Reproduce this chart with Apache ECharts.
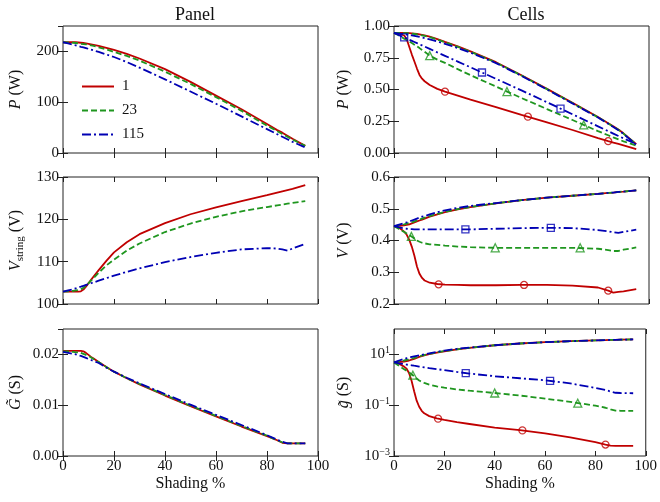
<!DOCTYPE html>
<html>
<head>
<meta charset="utf-8">
<script src="https://cdn.jsdelivr.net/npm/echarts@6/dist/echarts.min.js"></script>
<style>
  html, body { margin: 0; padding: 0; background: #fff; }
  #chart { width: 660px; height: 502px; }
</style>
</head>
<body>
<div id="chart"></div>
<script>
// shading % (x values shared by every curve)
const shading = [0, 2, 4, 5, 6, 7, 8, 9, 10, 11, 12, 14, 17, 20, 25, 30, 40, 50, 60, 70, 80, 84, 86, 88, 90, 95];
const legendNames = ['1', '23', '115'];

// Panel: power (W)
const panelPower1 = [218, 218, 218, 218, 217.5, 217, 216.5, 216, 215, 214, 213, 211, 207, 203, 195, 186, 165, 140, 113, 86, 57, 45, 40, 34, 28, 14];
const panelPower23 = [218, 217.5, 217, 216.5, 216, 215, 214.5, 214, 213, 212, 211, 208, 204, 199, 191, 182, 160, 136, 110, 83, 54, 43, 37.5, 32, 26.5, 14];
const panelPower115 = [218, 216, 213, 212, 210.5, 209, 208, 206.5, 205, 203.5, 202, 199, 194, 189, 179, 168, 145, 121, 97, 72, 47, 37, 32, 27, 22, 11];

// Panel: string voltage (V)
const panelVolt1 = [102.9, 102.9, 102.9, 102.9, 102.9, 103.0, 103.4, 104.1, 104.9, 105.7, 106.5, 108.0, 110.2, 112.2, 114.6, 116.5, 119.1, 121.2, 122.8, 124.3, 125.7, 126.3, 126.6, 126.9, 127.2, 128.1];
const panelVolt23 = [102.9, 103.0, 103.1, 103.2, 103.3, 103.5, 103.8, 104.3, 104.9, 105.5, 106.1, 107.4, 109.1, 110.5, 112.6, 114.3, 117.0, 119.0, 120.6, 121.9, 122.9, 123.3, 123.5, 123.7, 123.9, 124.3];
const panelVolt115 = [102.9, 103.2, 103.5, 103.7, 103.9, 104.1, 104.3, 104.5, 104.7, 104.9, 105.1, 105.5, 106.1, 106.7, 107.6, 108.4, 109.9, 111.1, 112.1, 112.9, 113.2, 113.1, 112.9, 112.6, 113.1, 114.2];

// Panel: conductance (S)
const panelCond1 = [0.0207, 0.0207, 0.0207, 0.0207, 0.0207, 0.0207, 0.0206, 0.0203, 0.0199, 0.0195, 0.0192, 0.0185, 0.0175, 0.0166, 0.0153, 0.0141, 0.0119, 0.0098, 0.0078, 0.0058, 0.0039, 0.0031, 0.0026, 0.0025, 0.0025, 0.0025];
const panelCond23 = [0.0206, 0.0206, 0.0205, 0.0204, 0.0204, 0.0203, 0.0201, 0.0199, 0.0197, 0.0194, 0.0191, 0.0185, 0.0175, 0.0166, 0.0153, 0.0142, 0.0120, 0.0099, 0.0079, 0.0059, 0.0040, 0.0031, 0.0027, 0.0025, 0.0025, 0.0025];
const panelCond115 = [0.0205, 0.0203, 0.0201, 0.0200, 0.0198, 0.0197, 0.0195, 0.0193, 0.0191, 0.0189, 0.0187, 0.0183, 0.0174, 0.0166, 0.0154, 0.0143, 0.0122, 0.0101, 0.0081, 0.0061, 0.0041, 0.0032, 0.0028, 0.0025, 0.0025, 0.0025];

// Cells: power (W), unshaded cell and shaded cell
const cellPowerFull1 = [0.945, 0.945, 0.945, 0.945, 0.944, 0.942, 0.94, 0.937, 0.934, 0.93, 0.926, 0.916, 0.897, 0.875, 0.84, 0.80, 0.715, 0.612, 0.505, 0.395, 0.283, 0.235, 0.21, 0.185, 0.155, 0.07];
const cellPowerFull23 = [0.945, 0.945, 0.944, 0.943, 0.942, 0.94, 0.937, 0.934, 0.93, 0.926, 0.922, 0.912, 0.893, 0.871, 0.836, 0.797, 0.712, 0.61, 0.503, 0.393, 0.281, 0.233, 0.208, 0.183, 0.153, 0.068];
const cellPowerFull115 = [0.945, 0.94, 0.935, 0.932, 0.929, 0.926, 0.922, 0.918, 0.914, 0.91, 0.905, 0.895, 0.878, 0.86, 0.826, 0.79, 0.708, 0.607, 0.5, 0.39, 0.279, 0.23, 0.205, 0.18, 0.15, 0.065];
const cellPowerShaded1 = [0.945, 0.94, 0.925, 0.895, 0.835, 0.775, 0.72, 0.665, 0.615, 0.585, 0.565, 0.535, 0.505, 0.483, 0.452, 0.42, 0.362, 0.3, 0.242, 0.181, 0.117, 0.093, 0.082, 0.071, 0.06, 0.031];
const cellPowerShaded23 = [0.945, 0.925, 0.9, 0.89, 0.878, 0.866, 0.853, 0.84, 0.826, 0.811, 0.797, 0.767, 0.735, 0.71, 0.66, 0.613, 0.523, 0.433, 0.346, 0.26, 0.172, 0.14, 0.123, 0.107, 0.092, 0.058];
const cellPowerShaded115 = [0.945, 0.927, 0.91, 0.901, 0.892, 0.883, 0.874, 0.865, 0.856, 0.847, 0.838, 0.82, 0.792, 0.765, 0.72, 0.675, 0.584, 0.493, 0.4, 0.305, 0.21, 0.172, 0.153, 0.134, 0.115, 0.071];

// Cells: voltage (V)
const cellVoltFull1 = [0.445, 0.446, 0.448, 0.449, 0.451, 0.454, 0.457, 0.46, 0.463, 0.466, 0.469, 0.475, 0.482, 0.489, 0.498, 0.505, 0.517, 0.527, 0.535, 0.541, 0.547, 0.55, 0.551, 0.553, 0.554, 0.558];
const cellVoltFull23 = [0.445, 0.448, 0.451, 0.453, 0.455, 0.457, 0.46, 0.463, 0.466, 0.469, 0.472, 0.477, 0.484, 0.49, 0.499, 0.506, 0.517, 0.527, 0.535, 0.541, 0.547, 0.55, 0.551, 0.553, 0.554, 0.558];
const cellVoltFull115 = [0.445, 0.45, 0.455, 0.457, 0.46, 0.463, 0.466, 0.469, 0.472, 0.475, 0.477, 0.482, 0.489, 0.495, 0.503, 0.509, 0.518, 0.527, 0.535, 0.541, 0.547, 0.55, 0.551, 0.553, 0.554, 0.558];
const cellVoltShaded1 = [0.445, 0.44, 0.428, 0.418, 0.402, 0.38, 0.352, 0.318, 0.295, 0.282, 0.274, 0.267, 0.263, 0.261, 0.26, 0.259, 0.259, 0.26, 0.26, 0.258, 0.252, 0.242, 0.236, 0.238, 0.24, 0.247];
const cellVoltShaded23 = [0.445, 0.436, 0.427, 0.422, 0.417, 0.412, 0.406, 0.4, 0.396, 0.393, 0.391, 0.388, 0.386, 0.384, 0.381, 0.379, 0.377, 0.377, 0.377, 0.377, 0.374, 0.37, 0.367, 0.367, 0.371, 0.378];
const cellVoltShaded115 = [0.445, 0.441, 0.438, 0.437, 0.436, 0.436, 0.435, 0.435, 0.435, 0.435, 0.435, 0.435, 0.435, 0.435, 0.435, 0.435, 0.437, 0.439, 0.44, 0.439, 0.433, 0.429, 0.426, 0.424, 0.427, 0.434];

// Cells: conductance (S), log scale
const cellCondFull1 = [4.83, 5.01, 5.25, 5.5, 5.75, 6.17, 6.61, 7.24, 7.94, 8.51, 9.12, 10.2, 11.7, 13.2, 15.8, 18.2, 22.9, 26.9, 30.2, 33.1, 35.5, 36.3, 37.2, 37.2, 38.0, 38.9];
const cellCondFull23 = [4.83, 5.25, 5.75, 6.03, 6.31, 6.76, 7.24, 7.76, 8.32, 8.91, 9.33, 10.5, 12.0, 13.5, 15.8, 18.2, 22.9, 26.9, 30.2, 33.1, 35.5, 36.3, 37.2, 37.2, 38.0, 38.9];
const cellCondFull115 = [4.83, 5.75, 6.61, 7.08, 7.41, 7.94, 8.32, 8.71, 9.12, 9.55, 10.0, 11.0, 12.6, 14.1, 16.6, 18.6, 22.9, 26.9, 30.2, 33.1, 35.5, 36.3, 37.2, 37.2, 38.0, 38.9];
const cellCondShaded1 = [4.83, 4.27, 3.31, 2.75, 1.82, 0.891, 0.355, 0.151, 0.0871, 0.0603, 0.0479, 0.0372, 0.0302, 0.0263, 0.0214, 0.0182, 0.0132, 0.0105, 0.00776, 0.00537, 0.00355, 0.00282, 0.00257, 0.00251, 0.00251, 0.00251];
const cellCondShaded23 = [4.83, 3.55, 2.63, 2.29, 1.95, 1.66, 1.38, 1.12, 0.933, 0.832, 0.759, 0.646, 0.55, 0.49, 0.417, 0.372, 0.302, 0.24, 0.182, 0.135, 0.0955, 0.0794, 0.0692, 0.0617, 0.0603, 0.0603];
const cellCondShaded115 = [4.83, 4.47, 4.17, 3.98, 3.85, 3.72, 3.59, 3.47, 3.31, 3.2, 3.09, 2.88, 2.63, 2.4, 2.04, 1.76, 1.38, 1.15, 0.955, 0.724, 0.479, 0.398, 0.347, 0.309, 0.302, 0.295];

// marker points on the shaded-cell curves [shading %, value]
const powerMarks1 = [[20, 0.483], [52.5, 0.286], [84, 0.093]];
const powerMarks23 = [[14, 0.767], [44.3, 0.484], [74.4, 0.221]];
const powerMarks115 = [[4, 0.91], [34.5, 0.634], [65.3, 0.35]];
const voltMarks1 = [[17.5, 0.262], [51, 0.26], [84, 0.242]];
const voltMarks23 = [[6.8, 0.413], [39.7, 0.377], [73, 0.377]];
const voltMarks115 = [[28, 0.435], [61.5, 0.44]];
const condMarks1 = [[17.5, 0.0295], [51, 0.0102], [84, 0.00282]];
const condMarks23 = [[7.5, 1.52], [40, 0.302], [73, 0.12]];
const condMarks115 = [[28.5, 1.84], [62, 0.91]];

const FONT = 'Liberation Serif';
const INK = '#111';
const colors = ['#c00000', '#1f961f', '#0000b4'];
const dashes = ['solid', [6, 3], [9, 3, 2, 3]];
const symbols = ['circle', 'triangle', 'rect'];

// grid boxes: [left, top]
const boxes = [[63, 26], [394, 26], [63, 177], [394, 177], [63, 329], [394, 329]];
const grids = boxes.map(b => ({
  left: b[0], top: b[1], width: 255, height: 127,
  show: true, borderColor: '#222', borderWidth: 1, backgroundColor: 'transparent'
}));

const tick = {show: true, inside: true, length: 5, lineStyle: {color: '#222', width: 1}};
const labelFont = {fontFamily: FONT, fontSize: 15, color: INK};

const xAxes = [];
grids.forEach((g, i) => {
  const bottomRow = i >= 4;
  xAxes.push({
    gridIndex: i, type: 'value', min: 0, max: 100, interval: 20,
    axisLine: {show: false}, splitLine: {show: false}, axisTick: tick,
    axisLabel: Object.assign({show: bottomRow, margin: 3}, labelFont),
    name: bottomRow ? 'Shading %' : '', nameLocation: 'middle', nameGap: 20,
    nameTextStyle: {fontFamily: FONT, fontSize: 16, color: INK}
  });
  xAxes.push({
    gridIndex: i, type: 'value', position: 'top', min: 0, max: 100, interval: 20,
    axisLine: {show: false}, splitLine: {show: false}, axisTick: tick,
    axisLabel: {show: false}
  });
});

const nameStyle = {
  fontFamily: FONT, fontSize: 16, color: INK, lineHeight: 20,
  rich: {
    i: {fontFamily: FONT, fontSize: 16, fontStyle: 'italic', color: INK, lineHeight: 20},
    sub: {fontFamily: FONT, fontSize: 11, color: INK, lineHeight: 11, verticalAlign: 'bottom'}
  }
};

const supLabel = v => {
  const e = Math.round(Math.log10(v));
  return '{b|10}{s|' + (e < 0 ? '\u2212' + (-e) : e) + '}';
};

const ySpecs = [
  {min: 0, max: 250, interval: 100, name: '{i|P} (W)', fmt: v => String(v), hideMax: true},
  {min: 0, max: 1, interval: 0.25, name: '{i|P} (W)', fmt: v => v.toFixed(2)},
  {min: 100, max: 130, interval: 10, name: '{i|V}{sub|string} (V)', fmt: v => String(v)},
  {min: 0.2, max: 0.6, interval: 0.1, name: '{i|V} (V)', fmt: v => v.toFixed(1)},
  {min: 0, max: 0.025, interval: 0.01, name: '{i|G\u0303} (S)', fmt: v => v.toFixed(2), hideMax: true},
  {log: true, min: 0.001, max: 100, name: '{i|g\u0303} (S)', fmt: supLabel}
];

const yAxes = [];
ySpecs.forEach((s, i) => {
  const base = {gridIndex: i, min: s.min, max: s.max, axisLine: {show: false}, splitLine: {show: false}};
  if (s.log) {
    base.type = 'log';
    base.logBase = 10;
  } else {
    base.type = 'value';
    base.interval = s.interval;
  }
  const logTicks = [0.001, 0.1, 10];
  const leftCol = i % 2 === 0;
  const left = Object.assign({}, base, {
    axisTick: s.log ? Object.assign({customValues: logTicks}, tick) : tick,
    axisLabel: Object.assign({
      margin: 4, formatter: s.fmt, showMaxLabel: !s.hideMax,
      rich: {
        b: {fontFamily: FONT, fontSize: 15, color: INK, lineHeight: 18},
        s: {fontFamily: FONT, fontSize: 10, color: INK, lineHeight: 10, verticalAlign: 'top'}
      }
    }, labelFont, s.log ? {customValues: logTicks} : {}),
    name: s.name, nameLocation: 'middle', nameRotate: 90, nameGap: leftCol ? 37 : 40,
    nameTextStyle: nameStyle
  });
  const right = Object.assign({}, base, {
    position: 'right',
    axisTick: s.log ? Object.assign({customValues: logTicks}, tick) : tick,
    axisLabel: {show: false}
  });
  yAxes.push(left, right);
});

const series = [];
function addLine(name, grid, k, values) {
  series.push({
    name: name, type: 'line', xAxisIndex: grid * 2, yAxisIndex: grid * 2,
    data: shading.map((x, j) => [x, values[j]]),
    symbol: 'none', showSymbol: false, animation: false, z: 2 + k,
    lineStyle: {color: colors[k], width: 1.8, type: dashes[k]},
    itemStyle: {color: colors[k]}
  });
}
function addMarks(grid, k, pts) {
  series.push({
    name: 'mark' + grid + '_' + k, type: 'scatter', xAxisIndex: grid * 2, yAxisIndex: grid * 2,
    data: pts, symbol: symbols[k], symbolSize: k === 1 ? 8 : 7, animation: false, z: 10,
    itemStyle: {color: 'rgba(0,0,0,0)', borderColor: colors[k], borderWidth: 1.3}
  });
}

// panel column
[panelPower1, panelPower23, panelPower115].forEach((v, k) => addLine(legendNames[k], 0, k, v));
[panelVolt1, panelVolt23, panelVolt115].forEach((v, k) => addLine('pv' + k, 2, k, v));
[panelCond1, panelCond23, panelCond115].forEach((v, k) => addLine('pg' + k, 4, k, v));

// cells column
const cellSets = [
  [1, [cellPowerFull1, cellPowerFull23, cellPowerFull115], [cellPowerShaded1, cellPowerShaded23, cellPowerShaded115], [powerMarks1, powerMarks23, powerMarks115]],
  [3, [cellVoltFull1, cellVoltFull23, cellVoltFull115], [cellVoltShaded1, cellVoltShaded23, cellVoltShaded115], [voltMarks1, voltMarks23, voltMarks115]],
  [5, [cellCondFull1, cellCondFull23, cellCondFull115], [cellCondShaded1, cellCondShaded23, cellCondShaded115], [condMarks1, condMarks23, condMarks115]]
];
cellSets.forEach(set => {
  const g = set[0];
  [0, 1, 2].forEach(k => {
    addLine('cs' + g + k, g, k, set[2][k]);
    addLine('cu' + g + k, g, k, set[1][k]);
    addMarks(g, k, set[3][k]);
  });
});

const chart = echarts.init(document.getElementById('chart'), null, {renderer: 'canvas'});
chart.setOption({
  animation: false,
  backgroundColor: '#fff',
  title: [
    {text: 'Panel', left: 190, top: 1, textAlign: 'center', textStyle: {fontFamily: FONT, fontSize: 18, fontWeight: 'normal', color: INK}},
    {text: 'Cells', left: 521, top: 1, textAlign: 'center', textStyle: {fontFamily: FONT, fontSize: 18, fontWeight: 'normal', color: INK}}
  ],
  legend: {
    data: legendNames, orient: 'vertical', left: 76, top: 74,
    itemWidth: 32, itemHeight: 14, itemGap: 9,
    itemStyle: {opacity: 0},
    textStyle: {fontFamily: FONT, fontSize: 15, color: INK, padding: [0, 0, 0, 3]}
  },
  grid: grids,
  xAxis: xAxes,
  yAxis: yAxes,
  series: series
});
</script>
</body>
</html>
